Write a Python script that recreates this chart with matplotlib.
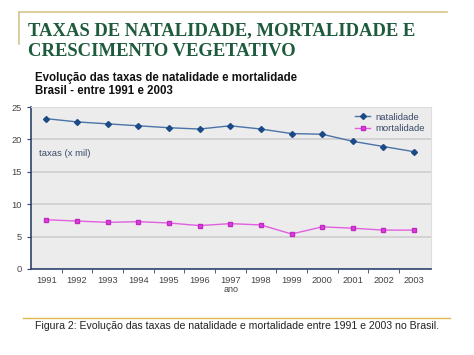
import matplotlib
matplotlib.use("Agg")
import matplotlib.pyplot as plt
from matplotlib.lines import Line2D

# dados (taxas por mil habitantes)
anos = [1991, 1992, 1993, 1994, 1995, 1996, 1997, 1998, 1999, 2000, 2001, 2002, 2003]
natalidade = [23.2, 22.7, 22.4, 22.1, 21.8, 21.6, 22.1, 21.6, 20.9, 20.8, 19.7, 18.9, 18.1]
mortalidade = [7.6, 7.4, 7.2, 7.3, 7.1, 6.7, 7.0, 6.8, 5.4, 6.5, 6.3, 6.0, 6.0]
y_ticks = [0, 5, 10, 15, 20, 25]

titulo = "TAXAS DE NATALIDADE, MORTALIDADE E\nCRESCIMENTO VEGETATIVO"
subtitulo = "Evolução das taxas de natalidade e mortalidade\nBrasil - entre 1991 e 2003"
legenda = "Figura 2: Evolução das taxas de natalidade e mortalidade entre 1991 e 2003 no Brasil."

fig = plt.figure(figsize=(4.74, 3.55), dpi=100)
fig.patch.set_facecolor("white")

# moldura dourada do slide
gold = "#d8c48a"
fig.add_artist(Line2D([0.041, 0.943], [1 - 12/355, 1 - 12/355], color=gold, lw=1.2))
fig.add_artist(Line2D([0.041, 0.041], [1 - 12/355, 1 - 44/355], color=gold, lw=1.2))
fig.add_artist(Line2D([0.049, 0.95], [1 - 318/355, 1 - 318/355], color="#e0b850", lw=1.0))

fig.text(0.059, 1 - 22/355, titulo, family="Liberation Serif", weight="bold",
         fontsize=13.4, color="#1e5a3c", va="top", linespacing=1.32)
fig.text(0.074, 1 - 72/355, subtitulo, family="Liberation Sans", weight="bold",
         fontsize=8.3, color="#111111", va="top", linespacing=1.1)
fig.text(0.5, 1 - 326/355, legenda, family="Liberation Sans", fontsize=7.6,
         color="#222222", ha="center", va="center")

ax = fig.add_axes([31/474, 1 - 269/355, 400/474, 162/355])
ax.set_facecolor("#ececec")
ax.set_xlim(1990.5, 2003.55)
ax.set_ylim(0, 25)
ax.set_yticks(y_ticks)
ax.set_xticks(anos)
ax.set_xticks([a + 0.5 for a in anos[:-1]], minor=True)
ax.grid(axis="y", color="#cfcfcf", lw=1.2)
ax.set_axisbelow(True)
for s in ["top", "right"]:
    ax.spines[s].set_color("#dedede")
ax.spines["left"].set_color("#2f4370")
ax.spines["bottom"].set_color("#2f4370")
ax.spines["left"].set_linewidth(1.2)
ax.spines["bottom"].set_linewidth(1.2)
ax.tick_params(axis="both", which="major", labelsize=6.7, labelcolor="#444444",
               color="#2f4370", length=3)
ax.tick_params(axis="x", which="major", length=0, pad=5)
ax.tick_params(axis="x", which="minor", length=3, color="#2f4370")
for lbl in ax.get_xticklabels() + ax.get_yticklabels():
    lbl.set_family("Liberation Sans")

ax.plot(anos, natalidade, color="#4a73a8", lw=1.0, marker="D", ms=3.0,
        mfc="#1c4a86", mec="#1c4a86", label="natalidade")
ax.plot(anos, mortalidade, color="#e060e0", lw=1.0, marker="s", ms=3.4,
        mfc="#e03ee0", mec="#c02ac0", label="mortalidade")

ax.text(0.02, 0.70, "taxas (x mil)", transform=ax.transAxes, fontsize=6.8,
        color="#3a4a6a", family="Liberation Sans")
ax.set_xlabel("ano", fontsize=6.5, color="#444444", family="Liberation Sans", labelpad=0)

leg = ax.legend(loc="upper right", frameon=False, handlelength=1.6,
                borderaxespad=0.2, labelspacing=0.25, handletextpad=0.6,
                prop={"family": "Liberation Sans", "size": 6.8})
for t in leg.get_texts():
    t.set_color("#3a4a6a")

fig.savefig("out.png", dpi=100)
